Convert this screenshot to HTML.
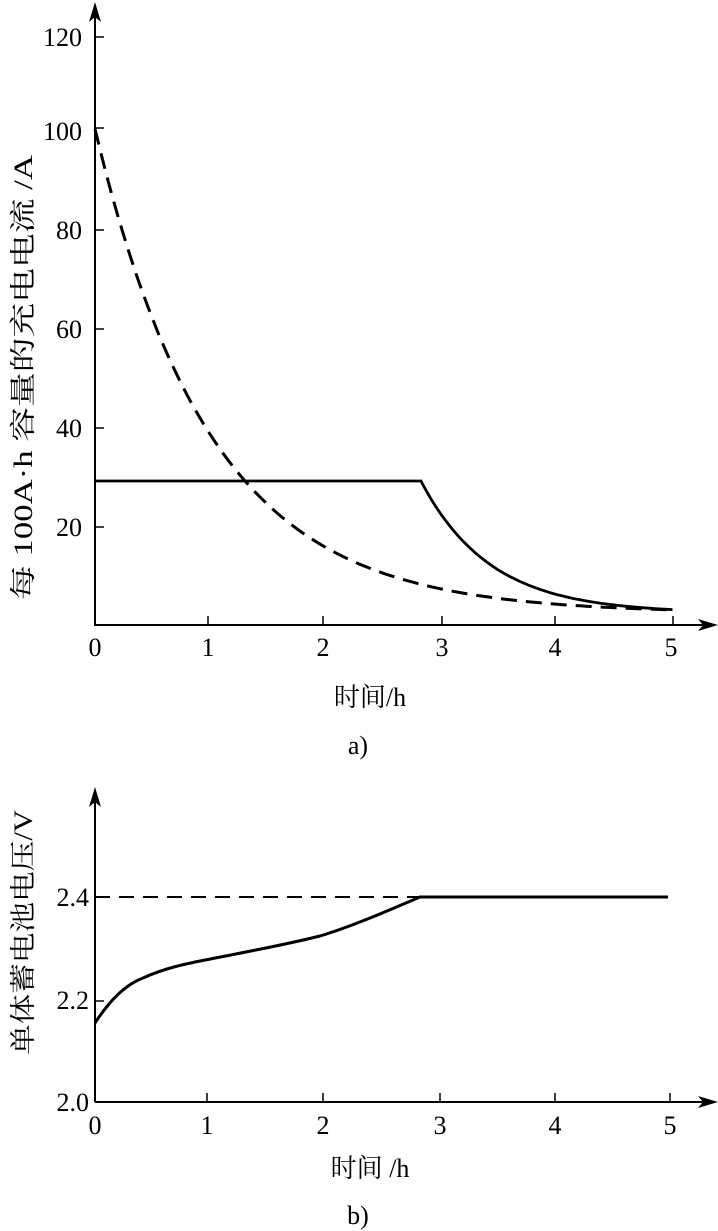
<!DOCTYPE html>
<html><head><meta charset="utf-8"><style>
html,body{margin:0;padding:0;background:#fff;}
svg{display:block;}
text{font-family:"Liberation Serif","Noto Serif CJK SC","Noto Sans CJK SC",serif;fill:#000;}
</style></head><body>
<svg id="s" width="718" height="1231" viewBox="0 0 718 1231" xmlns="http://www.w3.org/2000/svg">
<g stroke="#000" stroke-width="2" fill="none">
<line x1="95" y1="626" x2="95" y2="10"/>
<line x1="95" y1="625" x2="710" y2="625"/>
<line x1="95" y1="1102" x2="95" y2="795"/>
<line x1="95" y1="1102" x2="710" y2="1102"/>
<g stroke-width="1.5">
<line x1="95" y1="37" x2="104" y2="37"/><line x1="95" y1="128" x2="104" y2="128"/><line x1="95" y1="230" x2="104" y2="230"/><line x1="95" y1="329" x2="104" y2="329"/><line x1="95" y1="428" x2="104" y2="428"/><line x1="95" y1="527" x2="104" y2="527"/>
<line x1="208" y1="625" x2="208" y2="616"/><line x1="323" y1="625" x2="323" y2="616"/><line x1="442" y1="625" x2="442" y2="616"/><line x1="555" y1="625" x2="555" y2="616"/><line x1="673" y1="625" x2="673" y2="616"/>
<line x1="95" y1="1001" x2="104" y2="1001"/>
<line x1="207" y1="1102" x2="207" y2="1093"/><line x1="323" y1="1102" x2="323" y2="1093"/><line x1="440" y1="1102" x2="440" y2="1093"/><line x1="555" y1="1102" x2="555" y2="1093"/><line x1="670" y1="1102" x2="670" y2="1093"/>
</g>
<path id="dashA" stroke-width="3" stroke-dasharray="16,9"/>
<path id="solA" stroke-width="2.8"/>
<line x1="95" y1="897" x2="420" y2="897" stroke-width="2" stroke-dasharray="15,9"/>
<path stroke-width="3" d="M95,1023 C110,1000 125,985 143,978 C165,968 185,964 205,960 C240,953 280,946 320,936 C350,927 385,912 420,897 L668,897"/>
</g>
<g fill="#000">
<path d="M95,2 L89,22 L95,17 L101,22 Z"/>
<path d="M718,625 L698,619 L703,625 L698,631 Z"/>
<path d="M95,787 L89,807 L95,802 L101,807 Z"/>
<path d="M718,1102 L698,1096 L703,1102 L698,1108 Z"/>
</g>
<g font-size="26" text-anchor="end">
<text x="82" y="46">120</text><text x="82" y="140">100</text><text x="82" y="239">80</text><text x="82" y="338">60</text><text x="82" y="437">40</text><text x="82" y="536">20</text>
<text x="89" y="906">2.4</text><text x="89" y="1009">2.2</text><text x="89" y="1111">2.0</text>
</g>
<g font-size="26" text-anchor="middle">
<text x="95" y="656">0</text><text x="208" y="656">1</text><text x="323" y="656">2</text><text x="442" y="656">3</text><text x="555" y="656">4</text><text x="671" y="656">5</text>
<text x="95" y="1134">0</text><text x="207" y="1134">1</text><text x="323" y="1134">2</text><text x="440" y="1134">3</text><text x="555" y="1134">4</text><text x="670" y="1134">5</text>
<text x="370" y="706">时间/h</text><text x="358" y="754">a)</text>
<text x="370" y="1177">时间 /h</text><text x="358" y="1224">b)</text>
</g>
<g font-size="26">
<text transform="translate(32,600) rotate(-90)" textLength="445" lengthAdjust="spacingAndGlyphs">每 100A·h 容量的充电电流 /A</text>
<text transform="translate(32,1055) rotate(-90)" textLength="245" lengthAdjust="spacingAndGlyphs">单体蓄电池电压/V</text>
</g>
</svg>
<script>
function X(t){return 95+t*115.5;}function Y(v){return 625-v*4.96;}
var d="M95,"+Y(100).toFixed(1);
for(var t=0.05;t<=5.001;t+=0.05){var v=2.4+97.6*Math.exp(-t/1.0);d+=" L"+X(t).toFixed(1)+","+Y(v).toFixed(1);}
document.getElementById("dashA").setAttribute("d",d);
var s="M95,481 L421,481";
for(var t=2.85;t<=5.001;t+=0.05){var v=2.4+26.7*Math.exp(-(t-2.82)/0.6);s+=" L"+X(t).toFixed(1)+","+Y(v).toFixed(1);}
document.getElementById("solA").setAttribute("d",s);
</script>
</body></html>
